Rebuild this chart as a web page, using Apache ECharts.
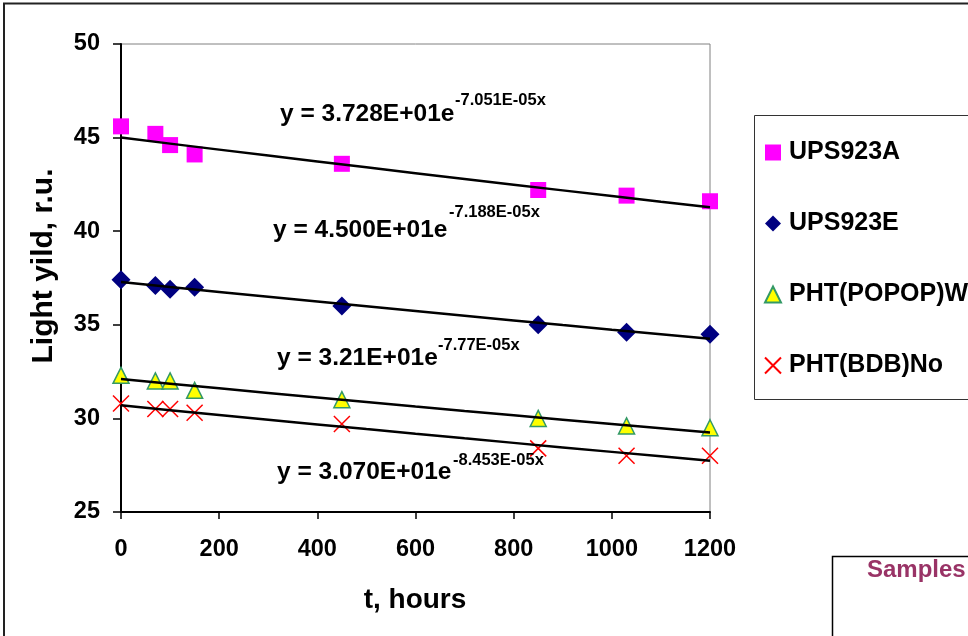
<!DOCTYPE html>
<html><head><meta charset="utf-8">
<script src="https://cdn.jsdelivr.net/npm/echarts@6/dist/echarts.min.js"></script>
<style>html,body{margin:0;padding:0;background:#fff}#c{width:968px;height:636px}</style>
</head><body><div id="c"></div>
<script>
// ---- data ----
const hours     = [0, 70, 100, 150, 450, 850, 1030, 1200];
const ups923A   = [45.6, 45.2, 44.6, 44.1, 43.6, 42.2, 41.9, 41.6];
const ups923E   = [37.4, 37.1, 36.9, 37.0, 36.0, 35.0, 34.6, 34.5];
const phtPopopW = [32.3, 32.0, 32.0, 31.5, 31.0, 30.0, 29.6, 29.5];
const phtBdbNo  = [30.8, 30.5, 30.5, 30.3, 29.7, 28.4, 28.0, 28.0];
const seriesNames = ['UPS923A', 'UPS923E', 'PHT(POPOP)W', 'PHT(BDB)No'];
// exponential trendlines y = A * exp(k x), coefficients as printed on the chart
const trendA = [45.00, 37.28, 32.1, 30.70];
const trendK = [-7.188e-5, -7.051e-5, -7.77e-5, -8.453e-5];
const trendX = [0, 100, 200, 300, 400, 500, 600, 700, 800, 900, 1000, 1100, 1200];
const eqMain = ['y = 3.728E+01e', 'y = 4.500E+01e', 'y = 3.21E+01e', 'y = 3.070E+01e'];
const eqExp  = ['-7.051E-05x', '-7.188E-05x', '-7.77E-05x', '-8.453E-05x'];
const xTicks = [0, 200, 400, 600, 800, 1000, 1200];
const yTicks = [25, 30, 35, 40, 45, 50];
const xTitle = 't, hours';
const yTitle = 'Light yild, r.u.';
const boxTitle = 'Samples';

const F = 'Arial, "Liberation Sans", sans-serif';
const chart = echarts.init(document.getElementById('c'), null, {renderer: 'canvas'});

const values = [ups923A, ups923E, phtPopopW, phtBdbNo];
const symbols = ['rect', 'diamond', 'triangle', 'path://M0,0L16,16M16,0L0,16'];
const styles = [
  {color: '#FF00FF', opacity: 1},
  {color: '#000080', opacity: 1},
  {color: '#FFFF00', borderColor: '#339966', borderWidth: 1.5, opacity: 1},
  {color: 'rgba(0,0,0,0)', borderColor: '#FF0000', borderWidth: 1.5, opacity: 1}
];
const sizes = [16, 19, 16, 16];

const series = [];
values.forEach((arr, i) => {
  series.push({
    name: seriesNames[i], type: 'scatter', symbol: symbols[i], symbolSize: sizes[i],
    itemStyle: styles[i], z: 3,
    data: hours.map((h, j) => [h, arr[j]])
  });
});
trendA.forEach((A, i) => {
  series.push({
    name: 'trend' + i, type: 'line', symbol: 'none', silent: true, z: 5,
    lineStyle: {color: '#000', width: 2.5},
    data: trendX.map(x => [x, A * Math.exp(trendK[i] * x)])
  });
});

const eqPos = [
  {mx: 280, my: 114, sx: 455, sy: 100},
  {mx: 273, my: 230, sx: 449, sy: 212},
  {mx: 277, my: 358, sx: 438, sy: 345},
  {mx: 277, my: 472, sx: 453, sy: 460}
];
const graphic = [
  {type: 'rect', silent: true, z: -10, shape: {x: 4, y: 3.5, width: 1100, height: 800},
   style: {fill: 'none', stroke: '#222', lineWidth: 2}},
  {type: 'rect', silent: true, shape: {x: 754.5, y: 115.5, width: 400, height: 284},
   style: {fill: 'none', stroke: '#333', lineWidth: 1}},
  {type: 'rect', silent: true, shape: {x: 832.5, y: 556.5, width: 300, height: 200},
   style: {fill: 'none', stroke: '#000', lineWidth: 1.5}},
  {type: 'text', silent: true, style: {text: boxTitle, x: 867, y: 570, fill: '#993366',
   font: 'bold 24px ' + F, verticalAlign: 'middle', align: 'left'}},
  {type: 'text', silent: true, style: {text: xTitle, x: 415, y: 600, fill: '#000',
   font: 'bold 28px ' + F, verticalAlign: 'middle', align: 'center'}},
  {type: 'text', silent: true, x: 44, y: 266, rotation: Math.PI / 2,
   style: {text: yTitle, x: 0, y: 0, fill: '#000', font: 'bold 30px ' + F,
   verticalAlign: 'middle', align: 'center'}}
];
eqMain.forEach((t, i) => {
  const p = eqPos[i];
  graphic.push({type: 'text', silent: true, z: 10, style: {text: t, x: p.mx, y: p.my, fill: '#000',
    font: 'bold 24.5px ' + F, verticalAlign: 'middle', align: 'left'}});
  graphic.push({type: 'text', silent: true, z: 10, style: {text: eqExp[i], x: p.sx, y: p.sy, fill: '#000',
    font: 'bold 16.5px ' + F, verticalAlign: 'middle', align: 'left'}});
});

chart.setOption({
  animation: false,
  backgroundColor: '#fff',
  grid: {left: 121, top: 44, width: 589, height: 468, show: true,
         borderColor: '#808080', borderWidth: 1, backgroundColor: 'transparent'},
  xAxis: {
    type: 'value', min: xTicks[0], max: xTicks[xTicks.length - 1], interval: xTicks[1] - xTicks[0],
    axisLine: {show: true, lineStyle: {color: '#000', width: 2}},
    axisTick: {show: true, length: 7, lineStyle: {color: '#000', width: 1.5}},
    axisLabel: {fontSize: 23.5, fontWeight: 'bold', color: '#000', fontFamily: F, margin: 26,
      formatter: v => String(v)},
    splitLine: {show: false}
  },
  yAxis: {
    type: 'value', min: yTicks[0], max: yTicks[yTicks.length - 1], interval: yTicks[1] - yTicks[0],
    axisLine: {show: true, lineStyle: {color: '#000', width: 2}},
    axisTick: {show: true, length: 8, lineStyle: {color: '#000', width: 1.5}},
    axisLabel: {fontSize: 23.5, fontWeight: 'bold', color: '#000', fontFamily: F, margin: 21,
      formatter: v => String(v)},
    splitLine: {show: false}
  },
  legend: {
    orient: 'vertical', left: 764, top: 140, padding: 0, itemWidth: 16, itemHeight: 16, itemGap: 46,
    selectedMode: false, data: seriesNames,
    textStyle: {fontSize: 25, fontWeight: 'bold', color: '#000', fontFamily: F, lineHeight: 24, padding: [0, 0, 0, 3]}
  },
  graphic: graphic,
  series: series
});
</script></body></html>
